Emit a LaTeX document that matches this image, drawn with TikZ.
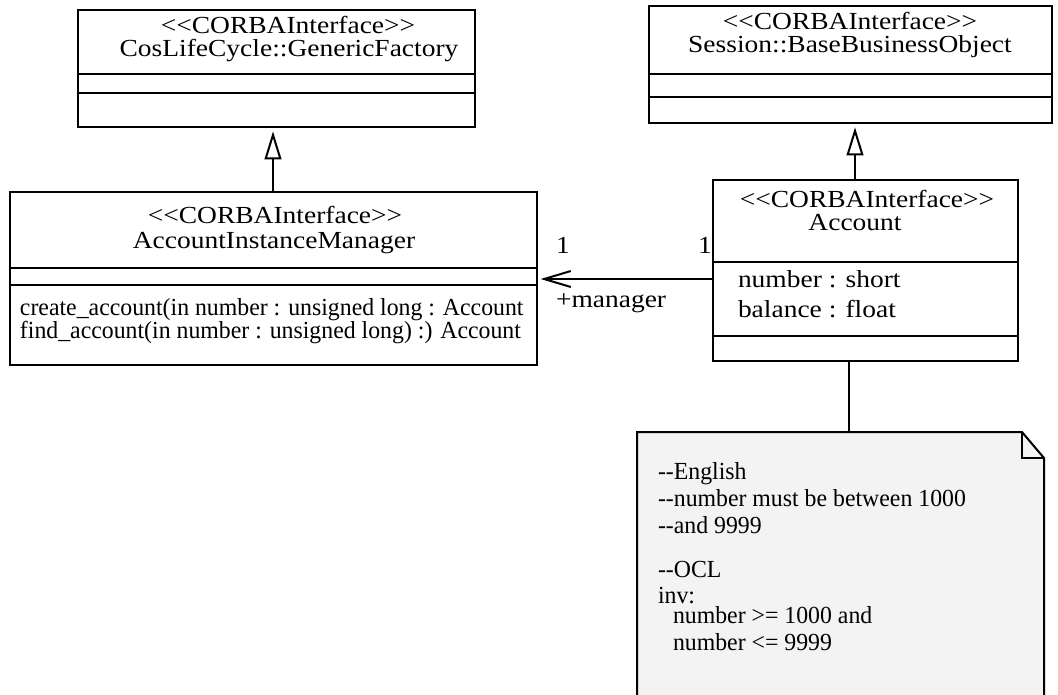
\documentclass[tikz,border=0pt]{standalone}
\usepackage{fontspec}
\setmainfont{Liberation Serif}[FakeStretch=1.12, Ligatures=TeXOff]
\newfontfamily\nfont{Liberation Serif}[FakeStretch=0.97, Ligatures=TeXOff]
\usetikzlibrary{arrows.meta,fit}
\definecolor{notegray}{RGB}{243,243,243}
\begin{document}
\begin{tikzpicture}[x=0.75pt,y=-0.75pt, line width=1.5pt,
  umlbox/.style={draw, inner sep=0pt},
  area/.style={inner sep=0pt},
  ttl/.style={anchor=base, inner sep=0pt, text height=0.66em, text depth=0.2em, font=\fontsize{18.4pt}{20pt}\selectfont},
  txt/.style={anchor=base west, inner sep=0pt, text height=0.66em, text depth=0.2em, font=\fontsize{18.4pt}{20pt}\selectfont},
  ntxt/.style={anchor=base west, inner sep=0pt, text height=0.66em, text depth=0.2em, font=\nfont\fontsize{18.4pt}{20pt}\selectfont},
  gen/.style={-{Triangle[open, length=21pt, width=12.5pt]}, shorten >=2.5pt},
  assoc/.style={-{Straight Barb[length=20pt, width=12pt]}, shorten >=2pt},
  divider/.style={line width=1.5pt}
]
\useasboundingbox (0,0) rectangle (1058,694);
\clip (0,0) rectangle (1058,694);

% --- CosLifeCycle::GenericFactory
\node[umlbox, fit={(78,10) (475,127)}] (gf) {};
\draw[divider] (78,74) -- (475,74);
\draw[divider] (78,93) -- (475,93);
\node[ttl] (gfs) at (288,33) {<<CORBAInterface>>};
\node[ttl] (gfn) at (289,56) {CosLifeCycle::GenericFactory};

% --- Session::BaseBusinessObject
\node[umlbox, fit={(649,6) (1052,123)}] (bbo) {};
\draw[divider] (649,74) -- (1052,74);
\draw[divider] (649,97) -- (1052,97);
\node[ttl] (bbs) at (850,29) {<<CORBAInterface>>};
\node[ttl] (bbn) at (850,52) {Session::BaseBusinessObject};

% --- AccountInstanceManager
\node[umlbox, fit={(10,192) (537,365)}] (aim) {};
\draw[divider] (10,268) -- (537,268);
\draw[divider] (10,285) -- (537,285);
\node[ttl] (aims) at (275,223) {<<CORBAInterface>>};
\node[ttl] (aimn) at (274,248) {AccountInstanceManager};
\node[ntxt] (m1) at (19,315) {create\_account(in number : unsigned long : Account};
\node[ntxt] (m2) at (19,338) {find\_account(in number : unsigned long) :) Account};

% --- Account
\node[umlbox, fit={(713,180) (1018,361)}] (acc) {};
\draw[divider] (713,262) -- (1018,262);
\draw[divider] (713,336) -- (1018,336);
\node[ttl] (accs) at (867,207) {<<CORBAInterface>>};
\node[ttl] (accn) at (855,230) {Account};
\node[txt] (a1) at (737,287) {number : short};
\node[txt] (a2) at (737,317) {balance : float};

% --- Note
\node[area, fit={(637,432) (1044,700)}] (note) {};
\draw[fill=notegray] (637,432) -- (1022,432) -- (1044,458) -- (1044,700) -- (637,700) -- cycle;
\draw (1022,432) -- (1022,458) -- (1044,458);
\node[ntxt] (n1) at (657,479) {--English};
\node[ntxt] (n2) at (657,506) {--number must be between 1000};
\node[ntxt] (n3) at (657,533) {--and 9999};
\node[ntxt] (n4) at (657,577) {--OCL};
\node[ntxt, text depth=0pt] (n5) at (657,603) {inv:};
\node[ntxt] (n6) at (672,623) {number >= 1000 and};
\node[ntxt] (n7) at (672,650) {number <= 9999};

% --- connectors
\coordinate (gx) at (273,0);
\coordinate (bx) at (855,0);
\coordinate (ay) at (0,279);
\coordinate (nx) at (849,0);
\draw[gen] (aim.north -| gx) -- (gf.south -| gx);
\draw[gen] (acc.north -| bx) -- (bbo.south -| bx);
\draw[assoc] (acc.west |- ay) -- (aim.east |- ay);
\draw (acc.south -| nx) -- (note.north -| nx);

% --- association labels
\node[txt] (mulL) at (555,253) {1};
\node[txt] (mulR) at (697,253) {1};
\node[txt] (role) at (555,307) {+manager};
\end{tikzpicture}
\end{document}
